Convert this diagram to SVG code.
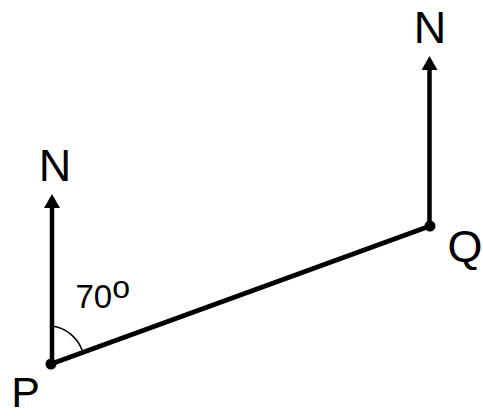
<svg xmlns="http://www.w3.org/2000/svg" width="483" height="416" viewBox="0 0 483 416">
  <style>
    .lbl { font-family: "Liberation Sans", Arial, sans-serif; font-size: 45px; fill: #000; }
    .ang { font-family: "Liberation Sans", Arial, sans-serif; font-size: 33px; fill: #000; }
    .edge { stroke: #000; stroke-width: 5; fill: none; stroke-linecap: round; }
    .north { stroke: #000; stroke-width: 4.5; fill: none; }
    .arc { stroke: #000; stroke-width: 1.6; fill: none; }
    .dot { fill: #000; }
  </style>
  <defs>
    <marker id="ah" viewBox="0 0 14 16" markerWidth="14" markerHeight="16" refX="0" refY="8" orient="auto" markerUnits="userSpaceOnUse">
      <path d="M0,0 L14,8 L0,16 z" fill="#000"/>
    </marker>
  </defs>
  <rect width="483" height="416" fill="#fff"/>
  <g id="connectors">
    <line class="edge" x1="51" y1="364" x2="430" y2="226"/>
    <line class="north" x1="52" y1="364" x2="52" y2="208" marker-end="url(#ah)"/>
    <line class="north" x1="429.5" y1="226" x2="429.5" y2="70" marker-end="url(#ah)"/>
  </g>
  <g id="angle">
    <path class="arc" d="M52,326 A37,37 0 0 1 82,350"/>
    <text class="ang" x="75.5" y="308">70<tspan font-size="32" dy="-10">o</tspan></text>
  </g>
  <g id="P">
    <circle class="dot" cx="51" cy="364" r="5.5"/>
    <text class="lbl" x="25.5" y="406.5" text-anchor="middle" style="font-size:43px">P</text>
  </g>
  <g id="Q">
    <circle class="dot" cx="430" cy="226" r="5.5"/>
    <text class="lbl" x="465" y="262" text-anchor="middle">Q</text>
  </g>
  <g id="N-P">
    <text class="lbl" x="55" y="180.5" text-anchor="middle">N</text>
  </g>
  <g id="N-Q">
    <text class="lbl" x="430" y="42.5" text-anchor="middle">N</text>
  </g>
</svg>
